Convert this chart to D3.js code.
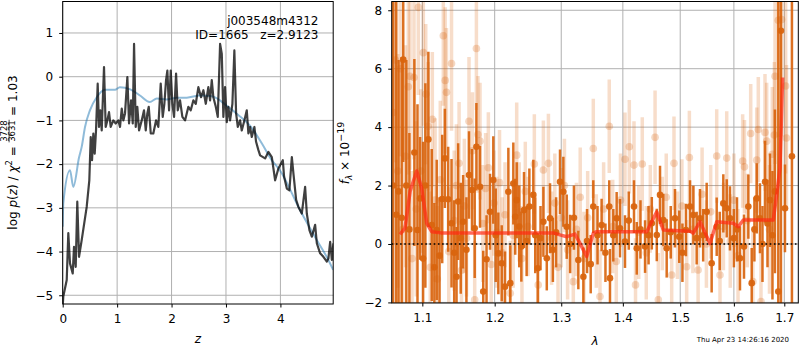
<!DOCTYPE html>
<html><head><meta charset="utf-8">
<script src="https://cdn.jsdelivr.net/npm/d3@7"></script>
<style>
body{margin:0;background:#fff;}
text{font-family:"DejaVu Sans",sans-serif;}
</style></head><body>
<svg id="c" width="800" height="350" xmlns="http://www.w3.org/2000/svg"></svg>
<script>
// ---------- data: left panel (log p(z)) ----------
const pzData = [[0.0,-5.25],[0.011,-5.03],[0.074,-4.65],[0.103,-3.58],[0.134,-4.27],[0.184,-4.5],[0.208,-3.89],[0.239,-4.35],[0.268,-2.86],[0.300,-4.12],[0.349,-3.74],[0.441,-2.98],[0.489,-2.37],[0.515,-1.38],[0.539,-1.91],[0.563,-1.30],[0.588,-1.76],[0.612,-1.23],[0.643,-0.16],[0.667,-1.15],[0.691,-0.77],[0.717,-1.23],[0.759,0.22],[0.790,-1.15],[0.820,-1.0],[0.851,-0.81],[0.882,-1.15],[0.930,-1.0],[0.974,-1.07],[1.022,-1.0],[1.053,-1.15],[1.085,-0.73],[1.114,-1.0],[1.145,-0.84],[1.188,-0.01],[1.219,-1.07],[1.256,-0.54],[1.287,-1.07],[1.311,0.75],[1.342,-1.15],[1.371,-0.69],[1.403,-1.23],[1.452,-1.0],[1.494,-0.77],[1.526,-1.23],[1.555,-0.84],[1.581,-0.69],[1.618,-1.30],[1.665,-1.30],[1.715,-1.0],[1.757,-1.15],[1.801,-0.16],[1.838,-0.92],[1.868,-0.62],[1.899,-0.08],[1.923,0.14],[1.954,-0.77],[1.985,0.14],[2.015,-0.62],[2.046,-0.92],[2.083,0.07],[2.114,-0.77],[2.156,-0.54],[2.199,-0.92],[2.248,-1.0],[2.309,-0.69],[2.353,-0.77],[2.401,-0.54],[2.445,-0.62],[2.493,-0.24],[2.542,-0.47],[2.585,-0.31],[2.629,-0.62],[2.676,-0.24],[2.708,-0.54],[2.739,-0.08],[2.768,-0.47],[2.813,-0.69],[2.849,-0.92],[2.892,0.75],[2.923,0.52],[2.952,-0.92],[2.983,-0.24],[3.015,-1.04],[3.044,-0.69],[3.075,-1.0],[3.118,-0.62],[3.154,0.60],[3.186,-0.84],[3.217,-1.15],[3.259,-1.0],[3.290,-1.23],[3.338,-1.0],[3.382,-0.77],[3.412,-1.30],[3.443,-1.15],[3.474,-1.38],[3.522,-1.15],[3.553,-1.49],[3.596,-1.68],[3.627,-1.80],[3.719,-1.87],[3.779,-1.72],[3.842,-1.84],[3.903,-2.37],[3.963,-2.10],[4.044,-1.91],[4.068,-2.29],[4.118,-2.56],[4.165,-2.60],[4.210,-1.84],[4.239,-2.21],[4.289,-2.82],[4.331,-2.98],[4.393,-3.13],[4.454,-2.52],[4.485,-3.13],[4.533,-3.51],[4.577,-3.66],[4.638,-3.39],[4.669,-3.81],[4.730,-4.04],[4.790,-4.12],[4.853,-4.23],[4.882,-4.16],[4.914,-3.78],[4.945,-4.19],[4.974,-3.81]];
const pzModel = [[0,-3.43],[0.011,-2.9],[0.134,-2.14],[0.195,-2.52],[0.30,-1.85],[0.35,-1.6],[0.41,-1.15],[0.50,-0.77],[0.625,-0.47],[0.78,-0.30],[0.96,-0.30],[1.05,-0.24],[1.24,-0.29],[1.42,-0.43],[1.60,-0.58],[1.73,-0.50],[1.91,-0.52],[2.10,-0.48],[2.28,-0.48],[2.52,-0.43],[2.74,-0.45],[3.04,-0.69],[3.23,-0.88],[3.46,-1.15],[3.66,-1.53],[3.84,-1.91],[3.99,-2.14],[4.36,-3.05],[4.67,-3.74],[4.85,-4.12],[4.97,-4.42]];
const zTicks = [0,1,2,3,4];
const lnpTicks = [-5,-4,-3,-2,-1,0,1];
const zDomain = [0, 4.97];
const lnpDomain = [-5.2, 1.72];
const titleLines = ["j003548m4312", "ID=1665   z=2.9123"];

// ---------- data: right panel (spectrum) ----------
// [wavelength, flux, error]
const specDark = [[1.062,2.0,7.0],[1.066,1.0,8.0],[1.069,1.8,4.5],[1.073,0.9,5.5],[1.075,6.31,3.5],[1.079,2.0,4.3],[1.083,0.5,3.3],[1.0895,3.13,3.2],[1.0936,0.48,4.3],[1.097,1.56,2.1],[1.101,-0.5,4.0],[1.104,2.0,3.5],[1.108,3.58,3.0],[1.1125,0.65,2.6],[1.116,-0.8,2.2],[1.1192,0.48,2.4],[1.123,-0.4,2.0],[1.1266,1.54,2.2],[1.1302,2.93,1.7],[1.1347,1.53,1.8],[1.1393,0.71,2.2],[1.143,-0.3,1.8],[1.1462,-1.12,1.7],[1.1484,1.45,2.0],[1.152,0.2,1.9],[1.1553,0.76,1.6],[1.1599,-0.2,1.8],[1.1635,2.36,1.5],[1.1677,1.85,1.4],[1.1715,0.54,1.7],[1.1739,3.33,1.5],[1.179,1.96,1.4],[1.1836,-1.63,1.4],[1.1883,-0.52,1.5],[1.1933,1.1,1.3],[1.198,2.19,1.5],[1.2015,0.3,1.6],[1.2053,-0.32,1.4],[1.2102,-0.66,1.3],[1.215,-1.46,1.2],[1.2199,1.79,1.5],[1.2227,-1.34,1.3],[1.2272,2.07,1.4],[1.23,0.93,1.3],[1.2322,1.5,1.3],[1.236,0.6,1.4],[1.2391,-0.09,1.2],[1.2431,1.16,1.3],[1.247,0.1,1.2],[1.2511,1.28,1.3],[1.2571,1.68,1.2],[1.26,0.3,1.3],[1.2638,-0.83,1.2],[1.268,0.2,1.1],[1.2724,0.76,1.2],[1.2776,-0.49,1.1],[1.2826,0.88,1.2],[1.287,-0.2,1.1],[1.292,0.4,1.2],[1.2981,2.13,1.1],[1.3033,1.79,1.2],[1.3086,0.59,1.1],[1.314,0.0,1.0],[1.32,0.9,1.1],[1.327,-0.55,1.0],[1.3351,-1.12,1.0],[1.341,0.1,1.1],[1.3469,-0.69,1.0],[1.3511,1.28,0.9],[1.358,0.3,1.0],[1.3647,0.65,0.9],[1.371,-0.3,1.0],[1.3773,1.28,0.9],[1.3785,-1.17,1.0],[1.384,0.3,0.9],[1.3896,0.88,0.9],[1.3952,0.54,1.0],[1.4036,0.08,0.9],[1.41,0.8,1.0],[1.4189,1.28,0.9],[1.4236,-0.15,0.9],[1.43,0.5,1.0],[1.4379,-0.09,0.9],[1.444,0.3,1.0],[1.4496,0.71,0.9],[1.4583,0.31,0.9],[1.464,1.68,1.0],[1.4698,0.82,0.9],[1.4758,-0.15,1.0],[1.483,0.4,0.9],[1.4906,0.88,1.0],[1.4983,0.25,0.9],[1.504,-0.3,1.0],[1.5104,0.48,0.9],[1.5178,1.28,0.9],[1.5239,0.99,1.0],[1.53,0.2,0.9],[1.5361,0.88,1.0],[1.542,0.3,0.9],[1.5485,1.1,1.0],[1.5578,-0.66,1.0],[1.5673,0.59,1.0],[1.573,0.1,1.0],[1.5798,1.39,1.0],[1.5863,1.22,1.0],[1.5925,0.88,1.1],[1.6,0.2,1.0],[1.606,0.5,1.1],[1.6118,-0.49,1.1],[1.6196,-0.09,1.1],[1.6281,1.28,1.1],[1.6347,-1.34,1.2],[1.64,0.5,1.1],[1.6446,1.56,1.2],[1.651,0.88,1.2],[1.656,0.0,1.3],[1.661,2.13,1.4],[1.666,0.7,1.5],[1.671,1.5,1.6],[1.676,0.3,2.2],[1.681,1.8,2.8],[1.6878,-1.63,10.0],[1.6932,7.3,10.0],[1.7014,1.22,1.5],[1.7157,3.0,12.0]];
const specLight = [[1.062,4.5,4.5],[1.065,6.3,3.5],[1.068,2.5,4.0],[1.071,6.0,3.0],[1.0745,0.5,3.5],[1.078,3.0,3.8],[1.0816,5.38,3.0],[1.0838,5.74,3.2],[1.0865,-0.5,3.0],[1.089,5.7,2.8],[1.092,1.2,3.0],[1.0947,8.1,3.0],[1.098,2.5,2.8],[1.1013,6.55,2.5],[1.1045,5.13,2.4],[1.1077,4.03,2.2],[1.1105,-0.8,2.6],[1.1133,4.27,2.3],[1.117,1.5,2.8],[1.12,-1.2,2.5],[1.124,2.2,2.7],[1.1281,7.13,2.4],[1.1306,5.6,2.5],[1.1324,5.19,2.2],[1.1355,-0.26,2.2],[1.1393,6.18,2.3],[1.143,0.8,2.4],[1.146,2.0,2.1],[1.1497,2.76,2.1],[1.153,-0.9,2.2],[1.157,1.3,2.3],[1.16,0.2,2.0],[1.1635,4.2,2.2],[1.1683,3.19,2.0],[1.1715,-1.91,2.0],[1.1739,6.69,2.1],[1.1761,3.75,2.0],[1.179,3.52,2.0],[1.183,0.7,2.0],[1.187,1.9,1.9],[1.1909,2.61,1.9],[1.195,-0.7,1.9],[1.199,1.4,1.8],[1.203,0.4,1.9],[1.207,2.1,1.8],[1.211,-0.3,1.9],[1.215,1.0,1.8],[1.2227,-1.69,1.8],[1.227,0.3,1.8],[1.2322,3.04,1.8],[1.236,1.1,1.7],[1.24,-0.5,1.8],[1.245,1.8,1.7],[1.249,0.6,1.7],[1.2586,2.74,1.7],[1.2645,-1.4,1.7],[1.2724,2.53,1.7],[1.2801,2.76,1.7],[1.285,0.2,1.6],[1.29,1.4,1.7],[1.295,-0.8,1.6],[1.3,0.9,1.7],[1.305,2.0,1.6],[1.31,-0.2,1.7],[1.319,-1.29,1.6],[1.324,0.5,1.6],[1.33,1.6,1.7],[1.336,-0.5,1.6],[1.342,0.9,1.6],[1.3511,3.27,1.7],[1.356,0.1,1.6],[1.362,-1.8,1.6],[1.368,1.2,1.6],[1.3773,4.03,1.6],[1.383,0.6,1.6],[1.389,-0.6,1.6],[1.396,1.5,1.6],[1.4036,2.9,1.6],[1.4109,3.33,1.6],[1.4189,2.7,1.5],[1.4215,-1.4,1.6],[1.427,0.4,1.6],[1.4331,2.74,1.6],[1.44,-0.3,1.6],[1.447,1.2,1.5],[1.4553,3.65,1.6],[1.461,-1.91,1.6],[1.468,0.7,1.6],[1.475,1.6,1.5],[1.4847,-1.06,1.6],[1.4888,2.76,1.6],[1.495,0.3,1.5],[1.503,1.3,1.6],[1.5117,-0.78,1.6],[1.5166,2.96,1.6],[1.523,0.5,1.5],[1.5326,-0.89,1.6],[1.54,1.7,1.6],[1.548,0.0,1.5],[1.556,1.1,1.6],[1.5673,3.01,1.6],[1.5735,-1.06,1.6],[1.58,0.6,1.5],[1.5863,2.94,1.6],[1.593,0.1,1.6],[1.6,1.5,1.6],[1.608,-0.4,1.6],[1.617,2.84,1.6],[1.6205,2.64,1.6],[1.626,0.8,1.6],[1.6327,3.78,1.7],[1.637,-1.29,1.7],[1.6446,2.87,1.8],[1.6477,3.92,1.8],[1.653,-1.97,1.8],[1.661,3.82,2.0],[1.6644,3.52,2.0],[1.67,0.5,2.2],[1.6757,3.07,2.3],[1.6798,3.73,2.5],[1.6812,5.74,3.0],[1.6878,7.66,4.0],[1.6946,7.68,4.0],[1.7028,5.41,3.0],[1.7045,3.63,2.5]];
const specModel = [[1.0709,0.33],[1.0773,0.54],[1.0839,1.8],[1.0926,2.5],[1.0992,1.9],[1.1058,0.71],[1.1125,0.42],[1.125,0.38],[1.2877,0.38],[1.2981,0.31],[1.3086,0.25],[1.3217,0.34],[1.3297,0.02],[1.3404,-0.43],[1.3511,0.37],[1.3566,0.42],[1.4407,0.42],[1.4582,1.10],[1.4698,0.48],[1.5177,0.44],[1.5237,0.37],[1.5361,0.76],[1.5547,0.02],[1.5673,0.76],[1.5988,0.71],[1.6085,0.59],[1.6182,0.82],[1.6776,0.82],[1.6845,1.68],[1.6912,2.6],[1.6966,5.7]];
const waveTicks = [1.1,1.2,1.3,1.4,1.5,1.6,1.7];
const fluxTicks = [-2,0,2,4,6,8];
const waveDomain = [1.0602, 1.7289];
const fluxDomain = [-2.02, 8.3];
const dateText = "Thu Apr 23 14:26:16 2020";

// ---------- drawing ----------
const svg = d3.select("#c");
const FONT = 12;
const gridCol = "#b0b0b0";

const L = {x0:62.7, x1:333.2, y0:1.5, y1:304};
const xz = d3.scaleLinear(zDomain, [L.x0, L.x1]);
const yp = d3.scaleLinear(lnpDomain, [L.y1, L.y0]);
const R = {x0:391.7, x1:798.3, y0:1.5, y1:303};
const xw = d3.scaleLog(waveDomain, [R.x0, R.x1]);
const yf = d3.scaleLinear(fluxDomain, [R.y1, R.y0]);

const defs = svg.append("defs");
defs.append("clipPath").attr("id","clipL").append("rect")
  .attr("x",L.x0).attr("y",L.y0).attr("width",L.x1-L.x0).attr("height",L.y1-L.y0);
defs.append("clipPath").attr("id","clipR").append("rect")
  .attr("x",R.x0).attr("y",R.y0).attr("width",R.x1-R.x0).attr("height",R.y1-R.y0);

function grid(g, xs, ys, xt, yt, P){
  g.selectAll(null).data(xt).join("line")
    .attr("x1",d=>xs(d)).attr("x2",d=>xs(d)).attr("y1",P.y0).attr("y2",P.y1)
    .attr("stroke",gridCol).attr("stroke-width",1);
  g.selectAll(null).data(yt).join("line")
    .attr("y1",d=>ys(d)).attr("y2",d=>ys(d)).attr("x1",P.x0).attr("x2",P.x1)
    .attr("stroke",gridCol).attr("stroke-width",1);
}
function styleAxis(g){
  g.select(".domain").remove();
  g.selectAll("text").attr("font-size",FONT).attr("font-family","DejaVu Sans").attr("fill","#000");
  g.selectAll("line").attr("stroke","#000");
}

// ===== Left panel =====
const gl = svg.append("g");
grid(gl, xz, yp, zTicks, lnpTicks, L);
const gll = gl.append("g").attr("clip-path","url(#clipL)");
gll.append("path").datum(pzModel)
  .attr("d", d3.line().x(d=>xz(d[0])).y(d=>yp(d[1])).curve(d3.curveMonotoneX))
  .attr("fill","none").attr("stroke","#1f77b4").attr("stroke-opacity",0.5).attr("stroke-width",2);
gll.append("path").datum(pzData)
  .attr("d", d3.line().x(d=>xz(d[0])).y(d=>yp(d[1])))
  .attr("fill","none").attr("stroke","#000").attr("stroke-opacity",0.75).attr("stroke-width",2.2)
  .attr("stroke-linejoin","round");

svg.append("g").attr("transform",`translate(0,${L.y1})`)
  .call(d3.axisBottom(xz).tickValues(zTicks).tickSize(3.5).tickPadding(7).tickFormat(d3.format("d")))
  .call(styleAxis);
svg.append("g").attr("transform",`translate(${L.x0},0)`)
  .call(d3.axisLeft(yp).tickValues(lnpTicks).tickSize(3.5).tickPadding(6).tickFormat(d3.format("d")))
  .call(styleAxis);

titleLines.forEach((t,i)=>{
  svg.append("text").attr("x",318.5).attr("y",25.3+i*13.2).attr("text-anchor","end")
    .attr("font-size",FONT).style("white-space","pre").text(t);
});
svg.append("rect").attr("x",L.x0).attr("y",L.y0).attr("width",L.x1-L.x0).attr("height",L.y1-L.y0)
  .attr("fill","none").attr("stroke","#000").attr("stroke-width",1);

svg.append("text").attr("x",(L.x0+L.x1)/2).attr("y",343).attr("text-anchor","middle")
  .attr("font-size",FONT).attr("font-style","italic").text("z");

(function(){
  const g = svg.append("g");
  const t1 = g.append("text").attr("font-size",FONT).style("white-space","pre");
  t1.append("tspan").text("log ");
  t1.append("tspan").attr("font-style","italic").text("p");
  t1.append("tspan").text("(");
  t1.append("tspan").attr("font-style","italic").text("z");
  t1.append("tspan").text(") / ");
  t1.append("tspan").attr("font-style","italic").text("χ");
  t1.append("tspan").attr("font-size",8.5).attr("dy",-5).text("2");
  t1.append("tspan").attr("dy",5).text(" = ");
  const w1 = t1.node().getComputedTextLength();
  const num = g.append("text").attr("font-size",8.5).attr("y",-9.3).text("3728");
  const den = g.append("text").attr("font-size",8.5).attr("y",-1.8).text("3631");
  const fw = Math.max(num.node().getComputedTextLength(), den.node().getComputedTextLength()) + 1;
  num.attr("x", w1 + fw/2).attr("text-anchor","middle");
  den.attr("x", w1 + fw/2).attr("text-anchor","middle");
  g.append("line").attr("x1",w1).attr("x2",w1+fw).attr("y1",-7.6).attr("y2",-7.6)
    .attr("stroke","#000").attr("stroke-width",0.7);
  const t3 = g.append("text").attr("font-size",FONT).attr("x",w1+fw).style("white-space","pre").text(" = 1.03");
  const W = w1 + fw + t3.node().getComputedTextLength();
  g.attr("transform",`translate(16.7,${152.5 + W/2}) rotate(-90)`);
})();

// ===== Right panel =====
const gr = svg.append("g");
grid(gr, xw, yf, waveTicks, fluxTicks, R);
const grr = gr.append("g").attr("clip-path","url(#clipR)");
const ORANGE = "#d9650f";
grr.append("g").selectAll("line").data(specDark).join("line")
  .attr("x1",d=>xw(d[0])).attr("x2",d=>xw(d[0]))
  .attr("y1",d=>yf(d[1]-d[2])).attr("y2",d=>yf(d[1]+d[2]))
  .attr("stroke",ORANGE).attr("stroke-width",2.5).attr("stroke-opacity",0.92);
grr.append("g").selectAll("circle").data(specDark).join("circle")
  .attr("cx",d=>xw(d[0])).attr("cy",d=>yf(d[1])).attr("r",3.3)
  .attr("fill",ORANGE).attr("fill-opacity",0.95);
grr.append("g").selectAll("line").data(specLight).join("line")
  .attr("x1",d=>xw(d[0])).attr("x2",d=>xw(d[0]))
  .attr("y1",d=>yf(d[1]-d[2])).attr("y2",d=>yf(d[1]+d[2]))
  .attr("stroke",ORANGE).attr("stroke-width",3.5).attr("stroke-opacity",0.22);
grr.append("g").selectAll("circle").data(specLight).join("circle")
  .attr("cx",d=>xw(d[0])).attr("cy",d=>yf(d[1])).attr("r",3.8)
  .attr("fill",ORANGE).attr("fill-opacity",0.25);
grr.append("line").attr("x1",R.x0).attr("x2",R.x1).attr("y1",yf(0)).attr("y2",yf(0))
  .attr("stroke","#000").attr("stroke-width",1.6).attr("stroke-dasharray","1.6,2.6");
grr.append("path").datum(specModel)
  .attr("d", d3.line().x(d=>xw(d[0])).y(d=>yf(d[1])))
  .attr("fill","none").attr("stroke","#ff2a12").attr("stroke-opacity",0.7).attr("stroke-width",3.5)
  .attr("stroke-linejoin","round");

svg.append("g").attr("transform",`translate(0,${R.y1})`)
  .call(d3.axisBottom(xw).tickValues(waveTicks).tickSize(3.5).tickPadding(7).tickFormat(d3.format(".1f")))
  .call(styleAxis);
svg.append("g").attr("transform",`translate(${R.x0},0)`)
  .call(d3.axisLeft(yf).tickValues(fluxTicks).tickSize(3.5).tickPadding(6).tickFormat(d3.format("d")))
  .call(styleAxis);
svg.append("rect").attr("x",R.x0).attr("y",R.y0).attr("width",R.x1-R.x0).attr("height",R.y1-R.y0)
  .attr("fill","none").attr("stroke","#000").attr("stroke-width",1);

svg.append("text").attr("x",(R.x0+R.x1)/2).attr("y",345).attr("text-anchor","middle")
  .attr("font-size",FONT).attr("font-style","italic").text("λ");

(function(){
  const g = svg.append("g");
  const t = g.append("text").attr("font-size",FONT).style("white-space","pre");
  t.append("tspan").attr("font-style","italic").text("f");
  t.append("tspan").attr("font-size",9).attr("font-style","italic").attr("dy",3).text("λ");
  t.append("tspan").attr("dy",-3).text(" × 10");
  t.append("tspan").attr("font-size",9.5).attr("dy",-5).text("−19");
  const W = t.node().getComputedTextLength();
  g.attr("transform",`translate(348.5,${153 + W/2}) rotate(-90)`);
})();

svg.append("text").attr("x",696.7).attr("y",341.7).attr("font-size",7).text(dateText);
</script>
</body></html>
